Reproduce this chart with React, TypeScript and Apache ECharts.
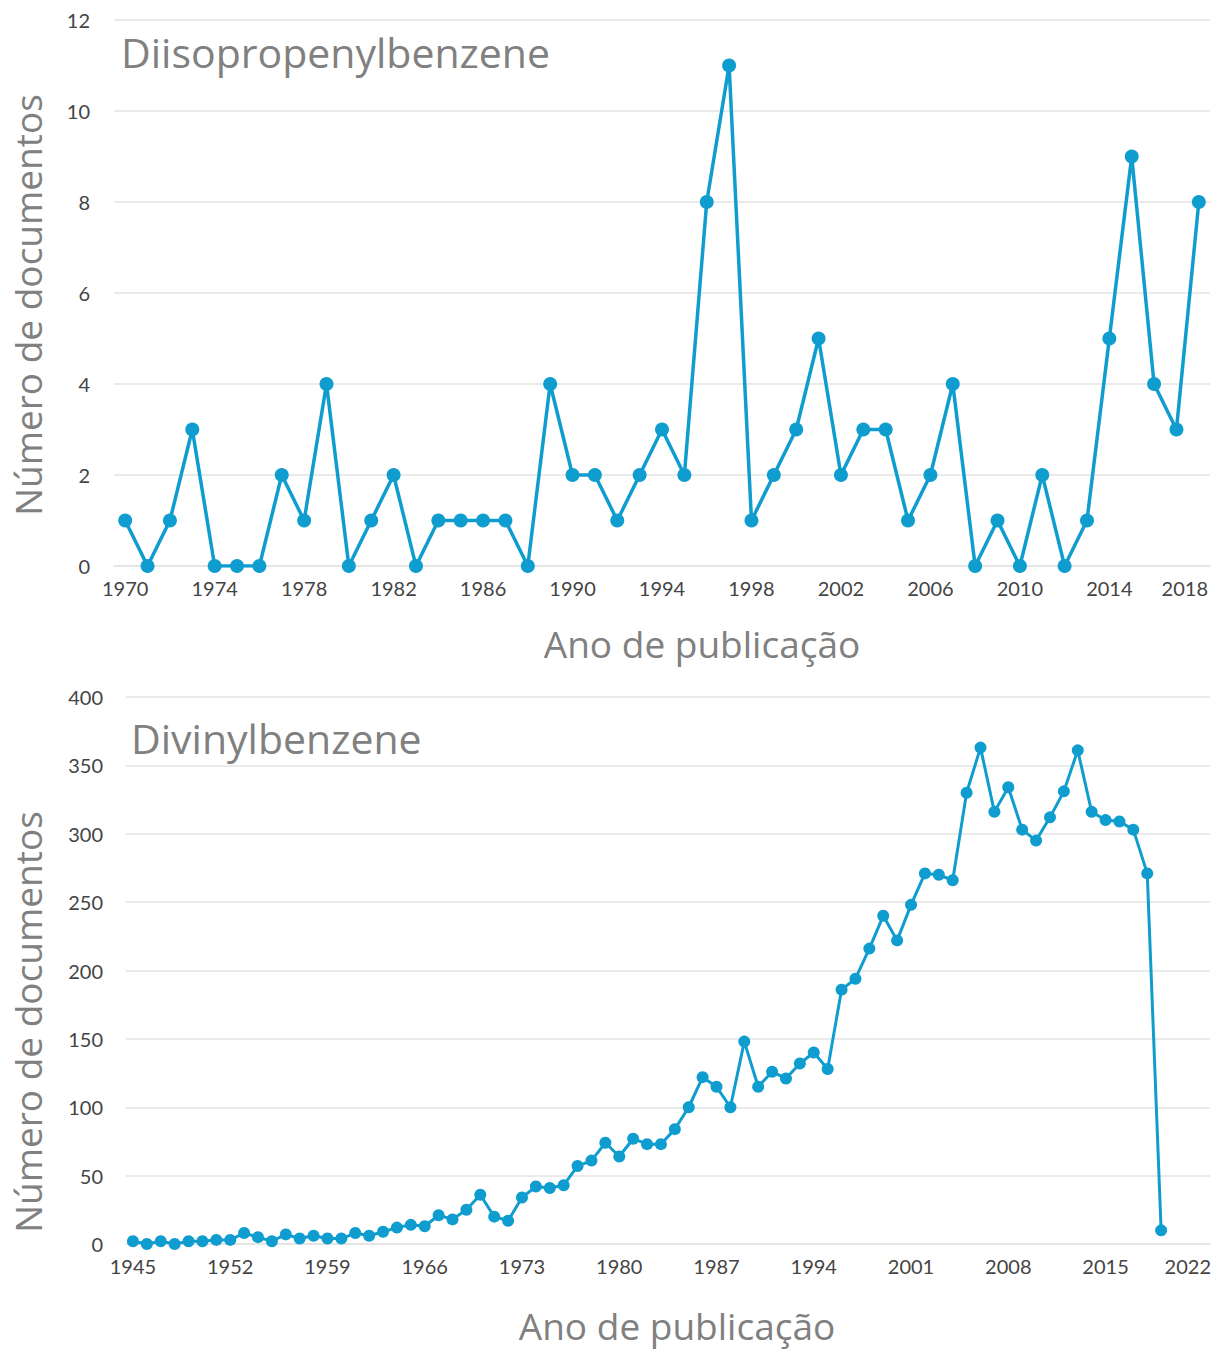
import React, { useEffect, useRef } from "react";
import * as echarts from "echarts";

const topYears = [
  "1970","1971","1972","1973","1974","1975","1976","1977","1978","1979",
  "1980","1981","1982","1983","1984","1985","1986","1987","1988","1989",
  "1990","1991","1992","1993","1994","1995","1996","1997","1998","1999",
  "2000","2001","2002","2003","2004","2005","2006","2007","2008","2009",
  "2010","2011","2012","2013","2014","2015","2016","2017","2018",
];
const topValues = [
  1, 0, 1, 3, 0, 0, 0, 2, 1, 4,
  0, 1, 2, 0, 1, 1, 1, 1, 0, 4,
  2, 2, 1, 2, 3, 2, 8, 11, 1, 2,
  3, 5, 2, 3, 3, 1, 2, 4, 0, 1,
  0, 2, 0, 1, 5, 9, 4, 3, 8,
];

const bottomYears = [
  "1945","1946","1947","1948","1949","1950","1951","1952","1953","1954",
  "1955","1956","1957","1958","1959","1960","1961","1962","1963","1964",
  "1965","1966","1967","1968","1969","1970","1971","1972","1973","1974",
  "1975","1976","1977","1978","1979","1980","1981","1982","1983","1984",
  "1985","1986","1987","1988","1989","1990","1991","1992","1993","1994",
  "1995","1996","1997","1998","1999","2000","2001","2002","2003","2004",
  "2005","2006","2007","2008","2009","2010","2011","2012","2013","2014",
  "2015","2016","2017","2018","2019","2020","2021","2022",
];
const bottomValues = [
  2, 0, 2, 0, 2, 2, 3, 3, 8, 5,
  2, 7, 4, 6, 4, 4, 8, 6, 9, 12,
  14, 13, 21, 18, 25, 36, 20, 17, 34, 42,
  41, 43, 57, 61, 74, 64, 77, 73, 73, 84,
  100, 122, 115, 100, 148, 115, 126, 121, 132, 140,
  128, 186, 194, 216, 240, 222, 248, 271, 270, 266,
  330, 363, 316, 334, 303, 295, 312, 331, 361, 316,
  310, 309, 303, 271, 10,
];

const topTitle = "Diisopropenylbenzene";
const bottomTitle = "Divinylbenzene";
const xName = "Ano de publicação";
const yName = "Número de documentos";

const LINE = "#0f9dd0";
const GRID = "#e3e3e3";
const TICK = "#444444";
const NAME = "#808080";
const TICK_FONT = "Lato";
const NAME_FONT = "'Open Sans'";

function xAxisFor(gridIndex: number, data: string[], interval: number, lastPad: number) {
  const last = data.length - 1;
  return {
    gridIndex,
    type: "category",
    data,
    boundaryGap: true,
    axisTick: { show: false },
    axisLine: { show: true, lineStyle: { color: GRID, width: 1.5 } },
    splitLine: { show: false },
    axisLabel: {
      interval,
      margin: 12,
      color: TICK,
      fontFamily: TICK_FONT,
      fontSize: 20,
      formatter: (v: string, i: number) => (i === last ? `{r|${v}}` : v),
      rich: {
        r: { padding: [0, lastPad, 0, 0], color: TICK, fontFamily: TICK_FONT, fontSize: 20 },
      },
    },
  };
}

function yAxisFor(gridIndex: number, max: number, interval: number, margin: number) {
  return {
    gridIndex,
    type: "value",
    min: 0,
    max,
    interval,
    axisLine: { show: false },
    axisTick: { show: false },
    splitLine: { show: true, lineStyle: { color: GRID, width: 1.5 } },
    axisLabel: { margin, color: TICK, fontFamily: TICK_FONT, fontSize: 20 },
  };
}

function nameText(text: string, x: number, y: number, size: number, rotate = false, align = "center") {
  return {
    type: "text",
    x,
    y,
    rotation: rotate ? Math.PI / 2 : 0,
    style: {
      text,
      fill: NAME,
      font: `${size}px ${NAME_FONT}`,
      textAlign: align,
      textVerticalAlign: "middle",
    },
  };
}

export default function App() {
  const ref = useRef<HTMLDivElement>(null);
  useEffect(() => {
    document.body.style.margin = "0";
    const chart = echarts.init(ref.current!, null, { renderer: "svg" });
    chart.setOption({
      animation: false,
      backgroundColor: "#ffffff",
      grid: [
        { left: 114, right: 4, top: 20, height: 546 },
        { left: 126, right: 3, top: 697, height: 547 },
      ],
      xAxis: [
        xAxisFor(0, topYears, 3, 28),
        xAxisFor(1, bottomYears, 6, 30),
      ],
      yAxis: [
        yAxisFor(0, 12, 2, 24),
        yAxisFor(1, 400, 50, 23),
      ],
      series: [
        {
          type: "line",
          xAxisIndex: 0,
          yAxisIndex: 0,
          data: topValues,
          symbol: "circle",
          symbolSize: 14,
          showAllSymbol: true,
          lineStyle: { color: LINE, width: 3.5 },
          itemStyle: { color: LINE },
        },
        {
          type: "line",
          xAxisIndex: 1,
          yAxisIndex: 1,
          data: bottomValues,
          symbol: "circle",
          symbolSize: 12,
          showAllSymbol: true,
          lineStyle: { color: LINE, width: 3 },
          itemStyle: { color: LINE },
        },
      ],
      graphic: [
        nameText(topTitle, 121, 52, 41, false, "left"),
        nameText(bottomTitle, 131, 738, 41, false, "left"),
        nameText(xName, 702, 643, 37),
        nameText(xName, 677, 1325, 37),
        nameText(yName, 27, 305, 37, true),
        nameText(yName, 27, 1022, 37, true),
      ],
    });
    return () => chart.dispose();
  }, []);
  return (
    <div
      ref={ref}
      style={{ position: "absolute", left: 0, top: 0, width: 1214, height: 1350, background: "#fff" }}
    />
  );
}
